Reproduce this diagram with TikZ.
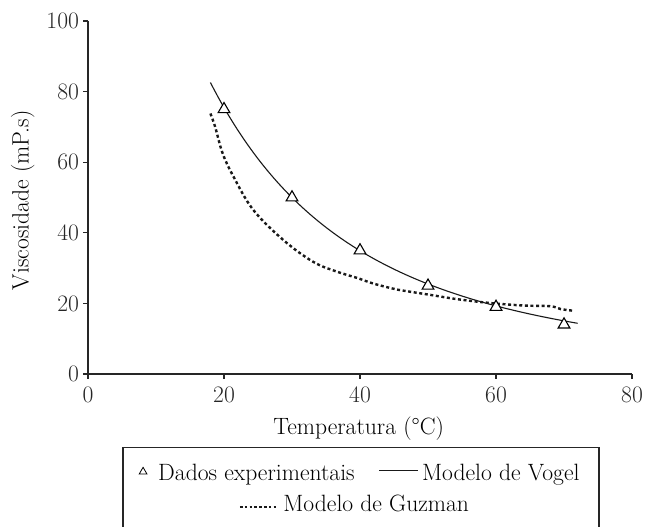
\documentclass[tikz,border=0pt]{standalone}
\usepackage{amsmath}
\usepackage{tikz}
\usetikzlibrary{shapes.geometric}

\begin{document}
\begin{tikzpicture}[x=6.8bp,y=3.53bp,
    font=\fontsize{23.6bp}{28bp}\selectfont,
    axisline/.style={line width=1.1bp,black!85},
    datapoint/.style={regular polygon,regular polygon sides=3,draw,line width=1.1bp,
        minimum size=13.5bp,inner sep=0pt,fill=white},
    vogel/.style={line width=1.1bp,black!90},
    guzman/.style={line width=2.4bp,black!90,dash pattern=on 3bp off 2.6bp}]
    % Page frame
    \useasboundingbox (-12.94,-43.06) rectangle (82.35,105.95);

    % Define the Vogel model
    \def\vogelfit(#1){exp(-1.609 + 795/((#1)+114))}

    % Axes
    \coordinate (O) at (0,0);
    \coordinate (xend) at (80,0);
    \coordinate (yend) at (0,100);
    \draw[axisline] (yend) -- (O) -- (xend);

    % Ticks and labels
    \foreach \v in {0,20,...,100}
        \draw[axisline] (0,\v) -- ++(-5bp,0) node[left,inner sep=3.5bp] (ylab\v) {\v};
    \foreach \t in {0,20,...,80}
        \draw[axisline] (\t,0) -- ++(0,-5bp) node[below=7bp,inner sep=0pt] (xlab\t) {\t};

    % Axis titles
    \node[anchor=base] (xtitle) at (39.8,-17) {Temperatura (°C)};
    \node[rotate=90] (ytitle) at (-9.6,49.2) {Viscosidade (mP.s)};

    % Guzman model
    \draw[guzman] plot[smooth,tension=0.6] coordinates {
        (18,73.8) (18.7,70) (19.8,62.5) (21.4,55.9) (24.3,46.5) (28.7,38)
        (33.1,31.8) (36.6,29) (39.6,27.2) (42,25.6) (45.5,23.9) (47.4,23.3)
        (50.4,22.4) (54.3,21.2) (59.2,20.1) (64.1,19.4) (68,19.2) (69.5,18.4) (71.5,17.9)};

    % Vogel model
    \draw[vogel,domain=18:72,samples=100] plot (\x, {\vogelfit(\x)});

    % Experimental data
    \foreach \t/\v [count=\i] in {20/75,30/50,40/35,50/25,60/19,70/14}
        \node[datapoint] (pt\i) at (\t,\v) {};

    % Legend
    \draw[axisline] (5.15,-45) -- (5.15,-20.7) -- (75.15,-20.7) -- (75.15,-45);
    \node[datapoint,minimum size=9bp,line width=0.8bp] (legtri) at (8.1,-27.7) {};
    \node[anchor=base west,inner sep=0pt] (legdata) at (10.3,-30.03) {Dados experimentais};
    \coordinate (vogelA) at (42.8,-27.4);
    \coordinate (vogelB) at (48.5,-27.4);
    \draw[vogel] (vogelA) -- (vogelB);
    \node[anchor=base west,inner sep=0pt] (legvogel) at (49.1,-30.03) {Modelo de Vogel};
    \coordinate (guzmanA) at (22.35,-37.8);
    \coordinate (guzmanB) at (27.9,-37.8);
    \draw[line width=2bp,black!90,dash pattern=on 2.6bp off 2.2bp] (guzmanA) -- (guzmanB);
    \node[anchor=base west,inner sep=0pt] (legguzman) at (28.7,-39) {Modelo de Guzman};
\end{tikzpicture}
\end{document}
